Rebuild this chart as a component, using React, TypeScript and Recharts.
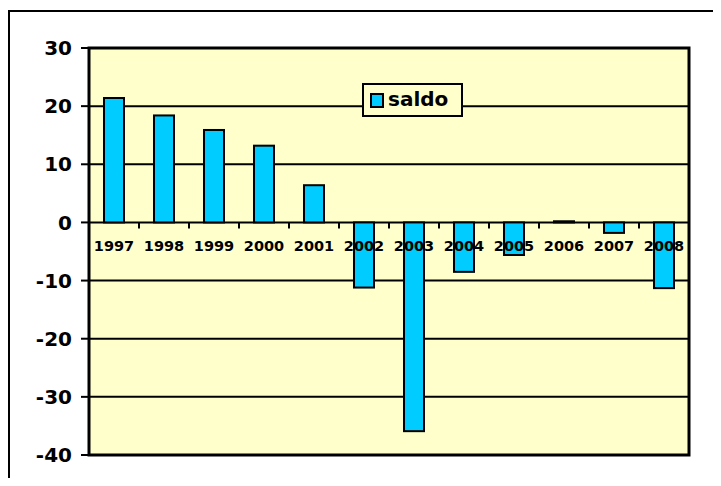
import React from 'react';
import { BarChart, Bar, XAxis, YAxis, CartesianGrid, ReferenceArea } from 'recharts';

const years = ['1997', '1998', '1999', '2000', '2001', '2002', '2003', '2004', '2005', '2006', '2007', '2008'];
const saldo = [21.4, 18.4, 15.9, 13.2, 6.4, -11.2, -35.9, -8.5, -5.6, 0.2, -1.8, -11.3];
const yTicks = [-40, -30, -20, -10, 0, 10, 20, 30];
const seriesName = 'saldo';

const data = years.map((year, i) => ({ year, saldo: saldo[i] }));

const FONT = '"DejaVu Sans", Verdana, sans-serif';
const BAR_FILL = '#00CCFF';
const PLOT_FILL = '#FFFFCC';

// bar + its category label on the zero line + the tick mark between categories
const SaldoBar = (props: any) => {
    const { x, y, width, height, payload } = props;
    const top = Math.min(y, y + height);
    const bottom = Math.max(y, y + height);
    const zeroY = payload.saldo >= 0 ? bottom : top;
    const cx = x + width / 2;
    const halfBand = width * 1.25; // barCategoryGap 30% -> bar is 40% of band
    const idx = years.indexOf(payload.year);

    return (
        <g>
            {idx > 0 && (
                <line x1={cx - halfBand} x2={cx - halfBand} y1={zeroY} y2={zeroY + 6} stroke="#000" strokeWidth={2} />
            )}
            <rect x={x} y={top} width={width} height={Math.max(bottom - top, 0.5)} fill={BAR_FILL} stroke="#000" strokeWidth={2} />
            <text x={cx} y={zeroY + 29} textAnchor="middle" fontFamily={FONT} fontWeight="bold" fontSize={14.5} fill="#000">
                {payload.year}
            </text>
        </g>
    );
};

const LegendBox = () => (
    <div
        style={{
            position: 'absolute',
            left: 354,
            top: 75,
            width: 101,
            height: 34,
            boxSizing: 'border-box',
            border: '2px solid #000',
            background: PLOT_FILL,
            display: 'flex',
            alignItems: 'center',
            paddingLeft: 6,
            fontFamily: FONT,
            fontWeight: 'bold',
            fontSize: 20,
            color: '#000',
        }}
    >
        <span style={{ display: 'inline-block', width: 14, height: 15, boxSizing: 'border-box', border: '2px solid #000', background: BAR_FILL }} />
        <span style={{ marginLeft: 4, lineHeight: '20px', marginTop: -3 }}>{seriesName}</span>
    </div>
);

export default function App() {
    return (
        <div style={{ position: 'relative', width: 705, height: 470, overflow: 'hidden', background: '#fff' }}>
            <div
                style={{
                    position: 'absolute',
                    left: 0,
                    top: 2,
                    width: 760,
                    height: 520,
                    borderLeft: '2px solid #000',
                    borderTop: '2px solid #000',
                    pointerEvents: 'none',
                }}
            />
            <BarChart
                width={705}
                height={470}
                data={data}
                margin={{ top: 40, right: 24, bottom: 23, left: 0 }}
                barCategoryGap="30%"
            >
                <CartesianGrid vertical={false} stroke="#000" strokeWidth={2} fill={PLOT_FILL} fillOpacity={1} />
                <XAxis dataKey="year" hide />
                <YAxis
                    width={81}
                    domain={[-40, 30]}
                    ticks={yTicks}
                    interval={0}
                    axisLine={false}
                    tickSize={8}
                    tickMargin={9}
                    tickLine={{ stroke: '#000', strokeWidth: 2 }}
                    tick={{ fill: '#000', fontFamily: FONT, fontWeight: 'bold', fontSize: 20 }}
                />
                <ReferenceArea y1={-40} y2={30} fill="none" stroke="#000" strokeWidth={3} ifOverflow="visible" />
                <Bar dataKey="saldo" name={seriesName} shape={<SaldoBar />} isAnimationActive={false} />
            </BarChart>
            <LegendBox />
        </div>
    );
}
